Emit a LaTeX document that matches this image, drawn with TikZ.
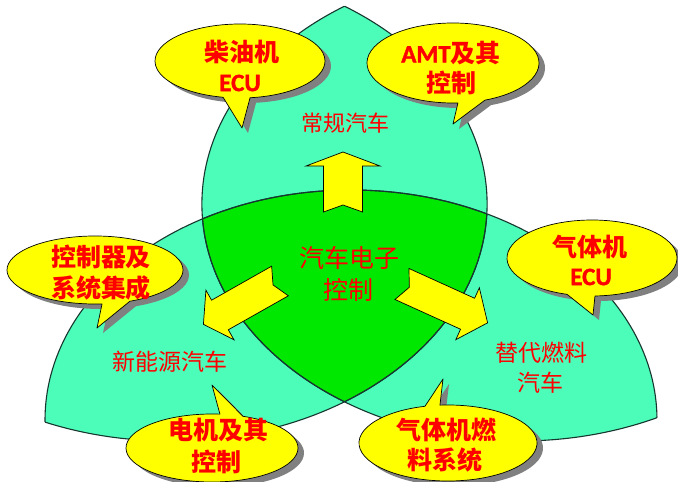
\documentclass[tikz,border=0pt]{standalone}
\usepackage{fontspec}
\newfontfamily\cjk{Noto Sans CJK SC}
\newfontfamily\latb{Carlito}[FakeBold=1.6]
\definecolor{leaf}{RGB}{76,252,185}
\definecolor{core}{RGB}{0,232,0}
\definecolor{edge}{RGB}{22,55,48}
\definecolor{bub}{RGB}{255,255,0}
\definecolor{shad}{RGB}{128,128,128}
\definecolor{txt}{RGB}{255,0,0}
\tikzset{
  edgeline/.style={draw=edge, line width=1.1pt},
  bubsty/.style={fill=bub, draw=black, line width=0.7pt, line join=round},
  shadsty/.style={fill=shad},
  arrsty/.style={fill=bub, draw=black, line width=0.7pt, line join=miter},
  bt/.style={text=txt, inner sep=0pt, font=\cjk\bfseries\fontsize{25}{25}\selectfont},
  bl/.style={text=txt, inner sep=0pt, font=\latb\bfseries\fontsize{25}{25}\selectfont},
  lab/.style={text=txt, inner sep=0pt, font=\cjk\fontsize{23}{23}\selectfont},
}
% bubble: cx cy rx ry startangle endangle tipx tipy
\newcommand\bubble[8]{%
  \fill[shadsty] (#1+6,#2-5) ++(#5:#3pt and #4pt) arc[start angle=#5, end angle=#6, x radius=#3pt, y radius=#4pt] -- (#7+6,#8-5) -- cycle;
  \path[bubsty] (#1,#2) ++(#5:#3pt and #4pt) arc[start angle=#5, end angle=#6, x radius=#3pt, y radius=#4pt] -- (#7,#8) -- cycle;
}
% block arrow: x y angle halfwidth notch shaftlen halfhead tip
\newcommand\blockarr[8]{%
  \begin{scope}[shift={(#1,#2)},rotate=#3]
    \path[arrsty] (0,#4) -- (#6,#4) -- (#6,#7) -- (#8,0) -- (#6,-#7) -- (#6,-#4) -- (0,-#4) -- (#5,0) -- cycle;
  \end{scope}}
\begin{document}
\begin{tikzpicture}[x=1pt,y=1pt]
\fill[white] (0,0) rectangle (678,-482);
\useasboundingbox (0,0) rectangle (678,-482);
% leaf fills: union of pairwise intersections
\begin{scope}
  \clip (351,-420) ellipse[x radius=306pt, y radius=230pt];
  \fill[leaf] (519.5,-204) ellipse[x radius=317.6pt, y radius=237pt];
  \fill[leaf] (169.5,-204) ellipse[x radius=317.6pt, y radius=237pt];
\end{scope}
\begin{scope}
  \clip (519.5,-204) ellipse[x radius=317.6pt, y radius=237pt];
  \fill[leaf] (169.5,-204) ellipse[x radius=317.6pt, y radius=237pt];
\end{scope}
% core
\begin{scope}
  \clip (351,-420) ellipse[x radius=306pt, y radius=230pt];
  \clip (519.5,-204) ellipse[x radius=317.6pt, y radius=237pt];
  \fill[core] (169.5,-204) ellipse[x radius=317.6pt, y radius=237pt];
\end{scope}
% outlines
\begin{scope}
  \clip (519.5,-204) ellipse[x radius=317.6pt, y radius=237pt];
  \path[edgeline] (351,-420) ellipse[x radius=306pt, y radius=230pt];
  \path[edgeline] (169.5,-204) ellipse[x radius=317.6pt, y radius=237pt];
\end{scope}
\begin{scope}
  \clip (169.5,-204) ellipse[x radius=317.6pt, y radius=237pt];
  \path[edgeline] (351,-420) ellipse[x radius=306pt, y radius=230pt];
  \path[edgeline] (519.5,-204) ellipse[x radius=317.6pt, y radius=237pt];
\end{scope}
\begin{scope}
  \clip (351,-420) ellipse[x radius=306pt, y radius=230pt];
  \path[edgeline] (519.5,-204) ellipse[x radius=317.6pt, y radius=237pt];
  \path[edgeline] (169.5,-204) ellipse[x radius=317.6pt, y radius=237pt];
\end{scope}
% arrows
\blockarr{343}{-212}{90}{19.5}{7}{46}{37}{60}
\blockarr{280}{-281}{209.5}{17}{8}{69}{28.5}{88}
\blockarr{402}{-284}{-24.4}{17}{8}{72}{28.5}{94}
% bubbles
\bubble{240}{-61}{85}{37}{276.8}{618.5}{242}{-128}
\bubble{453}{-63}{86}{40}{291.8}{633.3}{453}{-124}
\bubble{95}{-270}{88}{34}{293.4}{634.6}{97}{-328}
\bubble{212}{-448}{86}{34}{84.7}{428.9}{212}{-385}
\bubble{448}{-443}{89}{38}{105}{455.2}{443}{-379}
\bubble{592}{-258}{85}{38}{272}{612.9}{593}{-315}
% bubble texts
\node[bt] (n1a) at (242,-52) {柴油机};
\node[bl] (n1b) at (240,-83) {ECU};
\node[bt] (n2a) at (451,-53) {{\latb AMT}及其};
\node[bt] (n2b) at (451,-83) {控制};
\node[bt] (n3a) at (101,-257) {控制器及};
\node[bt] (n3b) at (101,-288) {系统集成};
\node[bt] (n4a) at (218,-430) {电机及其};
\node[bt] (n4b) at (216,-462) {控制};
\node[bt] (n5a) at (446,-430) {气体机燃};
\node[bt] (n5b) at (445,-460) {料系统};
\node[bt] (n6a) at (590,-247) {气体机};
\node[bl] (n6b) at (591,-277) {ECU};
% region labels
\node[lab, font=\cjk\fontsize{22}{22}\selectfont] (l1) at (345,-123) {常规汽车};
\node[lab, font=\cjk\fontsize{25}{25}\selectfont] (l2) at (349,-258) {汽车电子};
\node[lab, font=\cjk\fontsize{25}{25}\selectfont] (l3) at (348,-290) {控制};
\node[lab] (l4) at (170,-362) {新能源汽车};
\node[lab] (l5) at (541,-353) {替代燃料};
\node[lab] (l6) at (540,-383) {汽车};
\end{tikzpicture}
\end{document}
